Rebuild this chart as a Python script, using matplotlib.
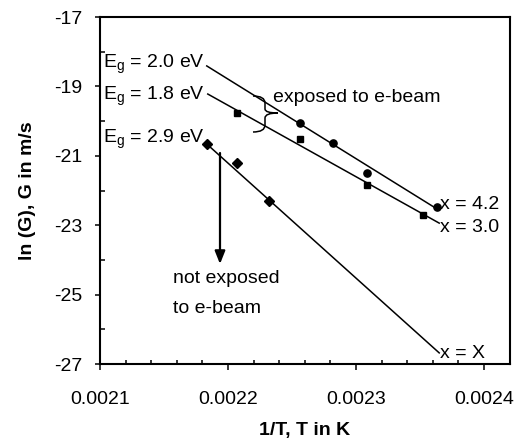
import matplotlib
matplotlib.use('Agg')
import matplotlib.pyplot as plt
import matplotlib.transforms as mtransforms
from matplotlib.path import Path
from matplotlib.patches import PathPatch
from matplotlib.ticker import MultipleLocator, FormatStrFormatter

plt.rcParams['font.family'] = ['Liberation Sans', 'DejaVu Sans']
plt.rcParams['mathtext.fontset'] = 'custom'
plt.rcParams['mathtext.rm'] = 'Liberation Sans'
plt.rcParams['mathtext.it'] = 'Liberation Sans:italic'
plt.rcParams['axes.unicode_minus'] = False

# ---- data (1/T in 1/K, ln G) ----
x42 = [0.0022559, 0.0022824, 0.0023089, 0.0023634]
y42 = [-20.05, -20.63, -21.50, -22.48]
x30 = [0.0022068, 0.0022559, 0.0023089, 0.0023525]
y30 = [-19.77, -20.52, -21.84, -22.71]
xX = [0.0021834, 0.0022068, 0.0022317]
yX = [-20.66, -21.21, -22.30]

fit42_x = [0.0021834, 0.0023610]
fit42_y = [-18.41, -22.48]
fit30_x = [0.0021842, 0.0023650]
fit30_y = [-19.22, -22.94]
fitX_x = [0.0021834, 0.0023650]
fitX_y = [-20.66, -26.68]

xticks = [0.0021, 0.0022, 0.0023, 0.0024]
yticks = [-27, -25, -23, -21, -19, -17]

W, H = 521, 444
fig = plt.figure(figsize=(W / 100, H / 100), dpi=100)
ax = fig.add_axes([100 / W, 80 / H, 410 / W, 347 / H])

# pixel transform (image coords, y down)
pix = mtransforms.Affine2D().scale(1, -1).translate(0, H)

lw = 1.1
ax.plot(fit42_x, fit42_y, color='black', lw=lw, zorder=2)
ax.plot(fit30_x, fit30_y, color='black', lw=lw, zorder=2)
ax.plot(fitX_x, fitX_y, color='black', lw=lw, zorder=2)
ax.plot(x42, y42, 'o', color='black', ms=5.2, zorder=3)
ax.plot(x30, y30, 's', color='black', ms=5, zorder=3)
ax.plot(xX, yX, 'D', color='black', ms=5.3, zorder=3)

ax.set_xlim(0.0021, 0.0024203)
ax.set_ylim(-27, -17)
ax.set_xticks(xticks)
ax.set_yticks(yticks)
ax.xaxis.set_major_formatter(FormatStrFormatter('%.4f'))
ax.yaxis.set_major_formatter(FormatStrFormatter('%d'))
ax.xaxis.set_minor_locator(MultipleLocator(0.00002))
ax.yaxis.set_minor_locator(MultipleLocator(1))

ax.tick_params(axis='x', which='major', direction='out', length=4.5, width=1.1,
               labelsize=14, pad=15)
ax.tick_params(axis='x', which='minor', direction='in', length=3, width=1.1)
ax.tick_params(axis='y', which='major', direction='out', length=3.6, width=1.1,
               labelsize=14, pad=9)
ax.tick_params(axis='y', which='minor', direction='in', length=3.6, width=1.1)
ax.tick_params(top=False, right=False, which='both')
for s in ax.spines.values():
    s.set_linewidth(1.5)

ax.set_xlabel('1/T, T in K', fontsize=14, fontweight='bold', labelpad=10)
ax.set_ylabel('ln (G), G in m/s', fontsize=14, fontweight='bold', labelpad=13)

fs = 14
txt = dict(transform=pix, fontsize=fs, color='black')
ax.text(103, 68, r'E$_\mathregular{g}$ = 2.0 eV', ha='left', va='baseline', **txt)
ax.text(103, 100, r'E$_\mathregular{g}$ = 1.8 eV', ha='left', va='baseline', **txt)
ax.text(103, 143, r'E$_\mathregular{g}$ = 2.9 eV', ha='left', va='baseline', **txt)
ax.text(273, 102, 'exposed to e-beam', ha='left', va='baseline', **txt)
ax.text(173, 283, 'not exposed', ha='left', va='baseline', **txt)
ax.text(173, 313, 'to e-beam', ha='left', va='baseline', **txt)
ax.text(440, 209, 'x = 4.2', ha='left', va='baseline', **txt)
ax.text(440, 232, 'x = 3.0', ha='left', va='baseline', **txt)
ax.text(440, 358, 'x = X', ha='left', va='baseline', **txt)

# curly brace
verts = [(253, 96), (265, 96), (265, 103), (265, 109),
         (265, 113), (278, 113), (265, 113), (265, 118),
         (265, 125), (265, 132), (253, 132)]
codes = [Path.MOVETO, Path.CURVE3, Path.CURVE3, Path.LINETO,
         Path.CURVE3, Path.CURVE3, Path.CURVE3, Path.CURVE3,
         Path.LINETO, Path.CURVE3, Path.CURVE3]
ax.add_patch(PathPatch(Path(verts, codes), transform=pix, fill=False,
                       lw=1.1, color='black', clip_on=False))

# arrow
ax.annotate('', xy=(220, 264), xytext=(220, 153), xycoords=pix, textcoords=pix,
            arrowprops=dict(arrowstyle='-|>,head_length=0.55,head_width=0.22',
                            lw=1.6, color='black', shrinkA=0, shrinkB=0,
                            mutation_scale=14))

fig.savefig('out.png', dpi=100)
